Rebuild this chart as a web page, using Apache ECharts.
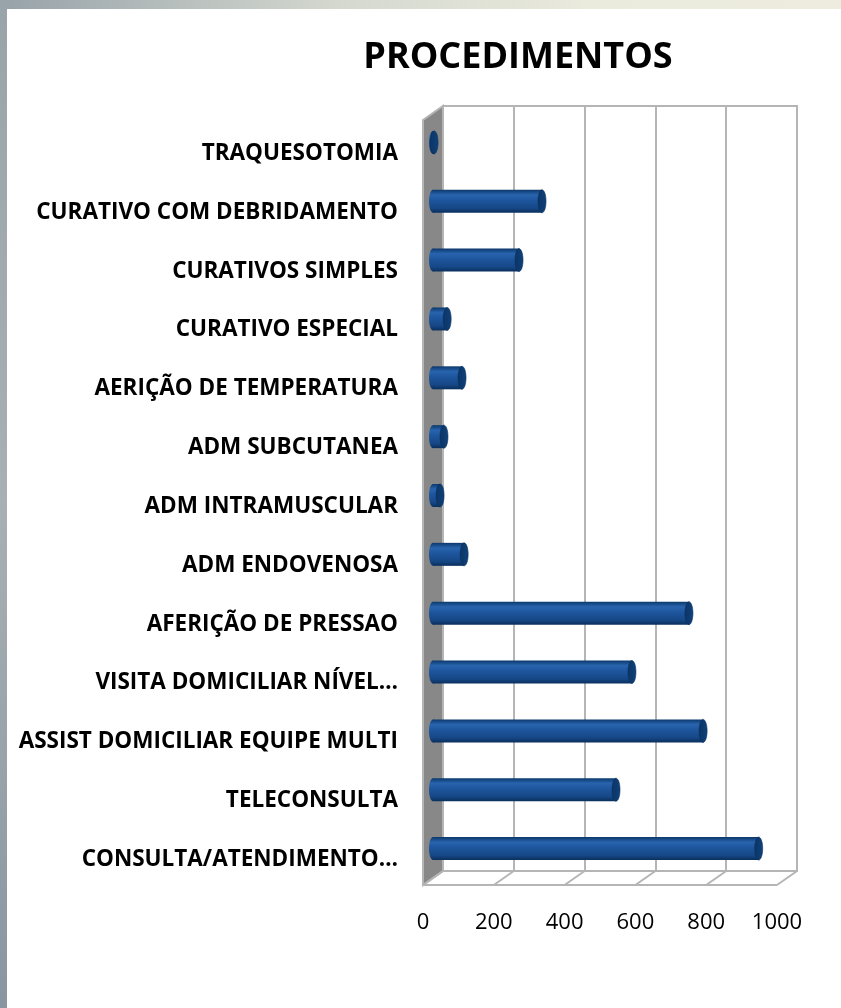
<!DOCTYPE html>
<html>
<head>
<meta charset="utf-8">
<title>PROCEDIMENTOS</title>
<script src="https://cdn.jsdelivr.net/npm/echarts/dist/echarts.min.js"></script>
<style>
  html, body { margin: 0; padding: 0; background: #fff; }
  #chart { width: 841px; height: 1008px; }
</style>
</head>
<body>
<div id="chart"></div>
<script>
// categories listed bottom -> top, as the category axis draws them
const categories = [
  "CONSULTA/ATENDIMENTO…",
  "TELECONSULTA",
  "ASSIST DOMICILIAR EQUIPE MULTI",
  "VISITA DOMICILIAR NÍVEL…",
  "AFERIÇÃO DE PRESSAO",
  "ADM ENDOVENOSA",
  "ADM INTRAMUSCULAR",
  "ADM SUBCUTANEA",
  "AERIÇÃO DE TEMPERATURA",
  "CURATIVO ESPECIAL",
  "CURATIVOS SIMPLES",
  "CURATIVO COM DEBRIDAMENTO",
  "TRAQUESOTOMIA"
];
const values = [920, 517, 763, 562, 723, 88, 20, 31, 82, 40, 243, 308, 3];
const xTicks = [0, 200, 400, 600, 800, 1000];

// 3d box layout (front face + depth offset)
const FRONT_LEFT = 423, FRONT_TOP = 120, PLOT_W = 354, PLOT_H = 765;
const DX = 20, DY = -14;
const GRID_COLOR = "#b5b5b5";

const chart = echarts.init(document.getElementById("chart"));

// cylinder bar, drawn halfway into the depth
function renderCylinder(params, api) {
  const i = api.value(0);
  const v = api.value(1);
  const p0 = api.coord([0, i]);
  const p1 = api.coord([v, i]);
  const cy = p0[1] + DY / 2;
  const x0 = p0[0] + DX / 2;
  const x1 = p1[0] + DX / 2;
  const h = 11.5, rx = 4;
  const body = new echarts.graphic.LinearGradient(0, 0, 0, 1, [
    { offset: 0, color: "#0c386c" },
    { offset: 0.22, color: "#2864ad" },
    { offset: 0.45, color: "#1e569e" },
    { offset: 0.8, color: "#164786" },
    { offset: 1, color: "#0a2f5c" }
  ]);
  return {
    type: "group",
    children: [
      { type: "ellipse", shape: { cx: x0, cy: cy, rx: rx, ry: h }, style: { fill: body } },
      { type: "rect", shape: { x: x0, y: cy - h, width: Math.max(x1 - x0, 0), height: h * 2 }, style: { fill: body } },
      {
        type: "ellipse", shape: { cx: x1, cy: cy, rx: rx, ry: h },
        style: {
          fill: new echarts.graphic.LinearGradient(0, 0, 1, 0, [
            { offset: 0, color: "#0b3464" },
            { offset: 1, color: "#10427b" }
          ]),
          stroke: "#0a3060", lineWidth: 0.6
        }
      }
    ]
  };
}

// floor: diagonal depth lines at each tick
function renderFloor(params, api) {
  const v = api.value(0);
  const x = api.coord([v, 0])[0];
  const y = FRONT_TOP + PLOT_H;
  return {
    type: "line",
    shape: { x1: x, y1: y, x2: x + DX, y2: y + DY },
    style: { stroke: GRID_COLOR, lineWidth: 2 }
  };
}

chart.setOption({
  backgroundColor: "#ffffff",
  title: {
    text: "PROCEDIMENTOS",
    left: 513,
    top: 35,
    textAlign: "center",
    textStyle: { fontFamily: "Open Sans", fontWeight: "bold", fontSize: 36, color: "#000" }
  },
  graphic: [
    {
      type: "rect", z: -10, silent: true,
      shape: { x: 0, y: 0, width: 841, height: 9 },
      style: {
        fill: new echarts.graphic.LinearGradient(0, 0, 1, 0, [
          { offset: 0, color: "#97a2a9" },
          { offset: 0.4, color: "#d4d8cf" },
          { offset: 0.7, color: "#eaeadd" },
          { offset: 1, color: "#edecdf" }
        ])
      }
    },
    {
      type: "rect", z: -10, silent: true,
      shape: { x: 0, y: 0, width: 7, height: 1008 },
      style: {
        fill: new echarts.graphic.LinearGradient(0, 0, 0, 1, [
          { offset: 0, color: "#99a4aa" },
          { offset: 0.5, color: "#a7b0b4" },
          { offset: 1, color: "#8996a0" }
        ])
      }
    },
    // side wall
    {
      type: "polygon", z: 1, silent: true,
      shape: {
        points: [
          [FRONT_LEFT, FRONT_TOP],
          [FRONT_LEFT + DX, FRONT_TOP + DY],
          [FRONT_LEFT + DX, FRONT_TOP + DY + PLOT_H],
          [FRONT_LEFT, FRONT_TOP + PLOT_H]
        ]
      },
      style: { fill: "#888888", stroke: GRID_COLOR, lineWidth: 2 }
    },
    // floor front edge
    {
      type: "line", z: 1, silent: true,
      shape: { x1: FRONT_LEFT, y1: FRONT_TOP + PLOT_H, x2: FRONT_LEFT + PLOT_W, y2: FRONT_TOP + PLOT_H },
      style: { stroke: GRID_COLOR, lineWidth: 2 }
    }
  ],
  grid: [
    { left: FRONT_LEFT, top: FRONT_TOP, width: PLOT_W, height: PLOT_H, containLabel: false },
    {
      left: FRONT_LEFT + DX, top: FRONT_TOP + DY, width: PLOT_W, height: PLOT_H,
      show: true, backgroundColor: "#fff", borderColor: GRID_COLOR, borderWidth: 2
    }
  ],
  xAxis: [
    {
      gridIndex: 0, type: "value", min: 0, max: 1000, interval: 200,
      axisLine: { show: false }, axisTick: { show: false }, splitLine: { show: false },
      axisLabel: {
        fontFamily: "Open Sans", fontSize: 22, color: "#000", margin: 27,
        formatter: v => String(v)
      }
    },
    {
      gridIndex: 1, type: "value", min: 0, max: 1000, interval: 200,
      axisLine: { show: false }, axisTick: { show: false }, axisLabel: { show: false },
      splitLine: { show: true, lineStyle: { color: GRID_COLOR, width: 2 } }
    }
  ],
  yAxis: [
    {
      gridIndex: 0, type: "category", data: categories,
      axisLine: { show: false }, axisTick: { show: false },
      axisLabel: {
        margin: 25,
        formatter: v => "{c|" + v + "}",
        rich: {
          c: {
            fontFamily: "Open Sans", fontWeight: "bold", fontSize: 22.5, color: "#000",
            padding: [8, 0, 0, 0]
          }
        }
      }
    },
    {
      gridIndex: 1, type: "category", data: categories,
      axisLine: { show: false }, axisTick: { show: false }, axisLabel: { show: false }
    }
  ],
  series: [
    {
      type: "custom", xAxisIndex: 0, yAxisIndex: 0, z: 3, silent: true,
      renderItem: renderFloor,
      data: xTicks.map(t => [t])
    },
    {
      type: "custom", xAxisIndex: 0, yAxisIndex: 0, z: 5, silent: true,
      renderItem: renderCylinder,
      encode: { x: 1, y: 0 },
      data: values.map((v, i) => [i, v])
    }
  ]
});
</script>
</body>
</html>
